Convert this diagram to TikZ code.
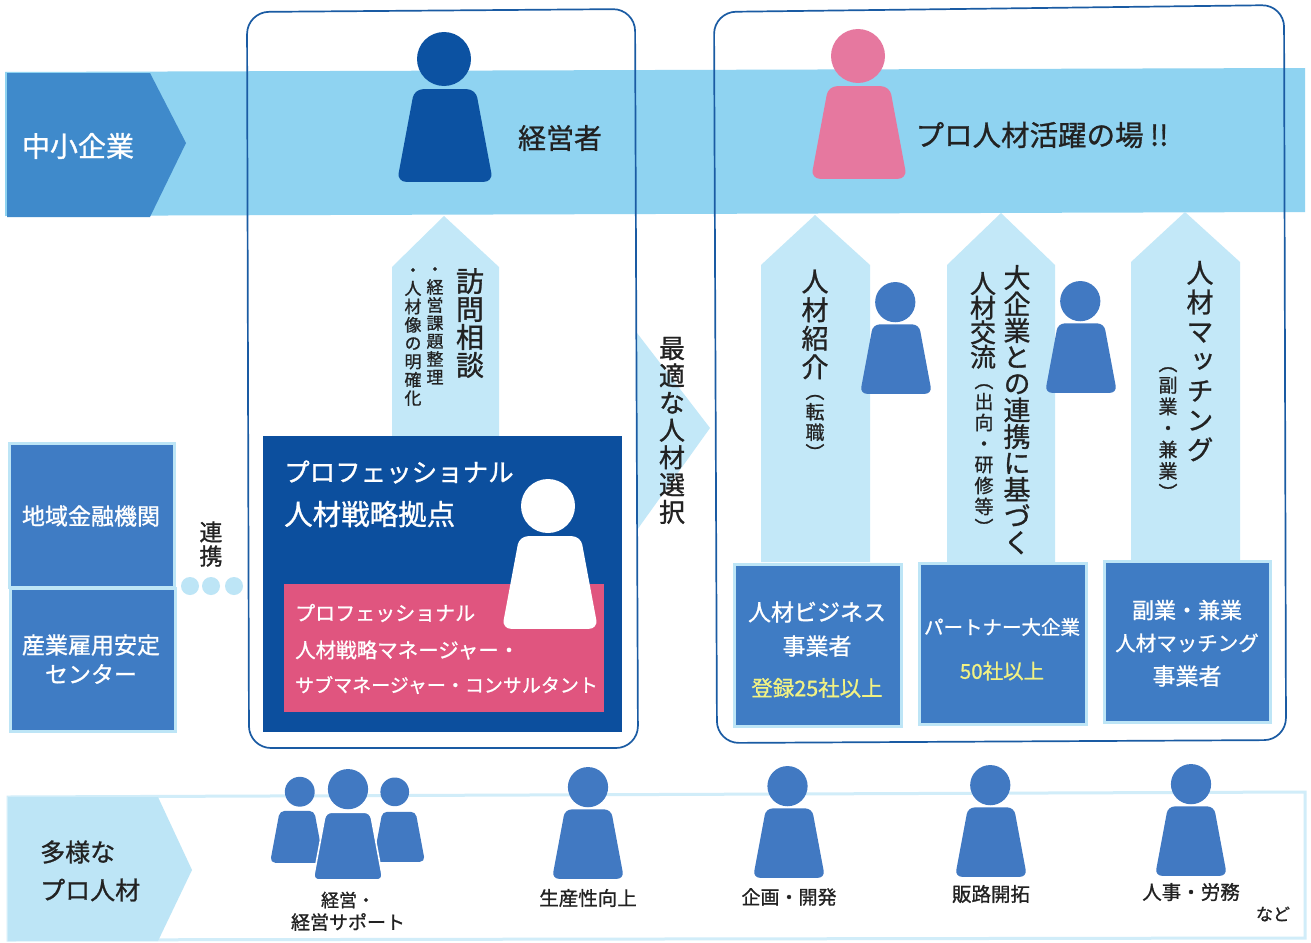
\documentclass[tikz,border=0pt]{standalone}
\usepackage{fontspec}
\setmainfont{Noto Sans CJK JP}
\newfontfamily\hjp[RawFeature={embolden=1.0}]{Noto Sans CJK JP}
\newfontfamily\vjp[RawFeature={+vert;embolden=1.0}]{Noto Sans CJK JP}
\definecolor{bandc}{HTML}{8FD3F1}
\definecolor{darkb}{HTML}{3F8ACB}
\definecolor{arrowc}{HTML}{C3E8F8}
\definecolor{navy}{HTML}{0C4F9E}
\definecolor{linec}{HTML}{1A5BA3}
\definecolor{manc}{HTML}{4179C2}
\definecolor{boxc}{HTML}{3F7CC4}
\definecolor{paleb}{HTML}{BDE5F6}
\definecolor{pinkb}{HTML}{E0557F}
\definecolor{pinkp}{HTML}{E6789F}
\definecolor{headb}{HTML}{0C52A2}
\definecolor{yel}{HTML}{F2F283}
\definecolor{txt}{HTML}{222222}
\makeatletter
\newdimen\vadv
\newcommand\vt[3]{\vbox{\offinterlineskip\fontsize{#2}{#2}\vjp\vadv=#1pt\relax
  \@tfor\vch:=#3\do{\hbox to 2em{\hss\vrule height \dimexpr.5\vadv+.38em\relax depth \dimexpr.5\vadv-.38em\relax width 0pt\smash{\vch}\hss}}}}
\makeatother
\newcommand\fs[1]{\fontsize{#1}{#1}\hjp}
\newcommand\person[7]{% cx, bottom y, width, colour, outline, head dx, head dy (scaled units)
  \pgfmathsetmacro\ps{#3/94}
  \begin{scope}[shift={(#1,#2)},x=\ps pt,y=-\ps pt]
    \filldraw[fill=#4,draw=#5,line width=1.6pt,rounded corners=8*\ps pt] (-47,0) -- (-30,-91) -- (30,-91) -- (47,0) -- cycle;
    \fill[#4] (#6,-122+#7) circle[radius=27];
  \end{scope}}
\tikzset{
  lab/.style={inner sep=0pt,text=txt},
  wlab/.style={inner sep=0pt,text=white},
  ylab/.style={inner sep=0pt,text=yel},
  uparrow/.style={fill=arrowc,draw=none},
  frame/.style={draw=linec,line width=1.7pt,rounded corners=22pt},
  tile/.style={fill=boxc,draw=paleb,line width=3pt}
}
\begin{document}
\begin{tikzpicture}[x=1pt,y=-1pt]
\useasboundingbox[fill=white] (0,0) rectangle (1311,942);
% bands
\fill[bandc] (5,72) -- (1305,68) -- (1305,212) -- (5,216) -- cycle;
\fill[darkb] (7,73) -- (150,73) -- (186,143) -- (150,217) -- (7,217) -- cycle;
\draw[paleb!70!white,line width=3pt] (8,797) -- (1305,792) -- (1305,938) -- (8,940) -- cycle;
\fill[paleb] (8,797) -- (158,797) -- (192,870) -- (158,941) -- (8,941) -- cycle;
% arrows
\fill[uparrow] (392,436) -- (392,267) -- (444,216) -- (499,267) -- (499,436) -- cycle;
\fill[uparrow] (761,562) -- (761,265) -- (815,215) -- (870,265) -- (870,562) -- cycle;
\fill[uparrow] (947,562) -- (947,265) -- (1001,213) -- (1055,265) -- (1055,562) -- cycle;
\fill[uparrow] (1131,560) -- (1131,262) -- (1185,212) -- (1240,262) -- (1240,560) -- cycle;
\fill[uparrow] (637,333) -- (710,428) -- (637,530) -- cycle;
% frames
\draw[frame] (247,12) -- (635,9) -- (638,748) -- (249,748) -- cycle;
\draw[frame] (714,12) -- (1284,5) -- (1286,740) -- (717,743) -- cycle;
% navy block
\fill[navy] (263,436) rectangle (622,732);
\fill[pinkb] (284,584) rectangle (604,712);
% side tiles
\draw[tile] (9,443) rectangle (174,587);
\draw[tile] (10,588) rectangle (175,731);
\fill[paleb] (190,586) circle[radius=9] (211,586) circle[radius=9] (234,586) circle[radius=9];
% lower tiles
\draw[tile] (734,564) rectangle (901,726);
\draw[tile] (919,563) rectangle (1086,724);
\draw[tile] (1104,561) rectangle (1270,722);
% persons
\person{445}{181}{94}{headb}{headb}{-1}{0}
\person{859}{178}{94}{pinkp}{pinkp}{-1}{0}
\person{550}{628}{94}{white}{white}{-2}{0}
\person{896}{393}{70}{manc}{manc}{-1}{0}
\person{1081}{392}{70}{manc}{manc}{-1}{0}
\person{297}{862}{52}{manc}{manc}{5}{-5}
\person{399}{861}{50}{manc}{manc}{-8}{-8}
\person{348}{880}{70}{manc}{white}{0}{0}
\person{588}{878}{70}{manc}{manc}{0}{0}
\person{789}{877}{70}{manc}{manc}{-2}{0}
\person{991}{876}{70}{manc}{manc}{-1}{0}
\person{1191}{875}{70}{manc}{manc}{0}{0}
% labels
\node[wlab] (chusho) at (78,146) {\fs{28}中小企業};
\node[lab] (keiei) at (560,138) {\fs{28}経営者};
\node[lab] (katsu) at (1042,135) {\fs{28.5}プロ人材活躍の場 !!};
\node[lab] (homon) at (470,323) {\vt{28}{28}{訪問相談}};
\node[lab] (h1) at (435,323) {\vt{18}{17}{・経営課題整理}};
\node[lab] (h2) at (413,334) {\vt{18.3}{17}{・人材像の明確化}};
\node[lab] (saiteki) at (672,430) {\vt{27.3}{26}{最適な人材選択}};
\node[lab] (shokai) at (815,324) {\vt{28.5}{27}{人材紹介}};
\node[lab] (tenshoku) at (815,422) {\vt{20.5}{19}{（転職）}};
\node[lab] (daikigyo) at (1017,410) {\vt{26.5}{27}{大企業との連携に基づく}};
\node[lab] (koryu) at (983,320) {\vt{24.5}{26}{人材交流}};
\node[lab] (shukko) at (984,454) {\vt{21}{19}{（出向・研修等）}};
\node[lab] (match) at (1200,361) {\vt{29.5}{27}{人材マッチング}};
\node[lab] (fuku) at (1168,428) {\vt{21.5}{19}{（副業・兼業）}};
\node[lab] (renkei) at (211,544) {\vt{24}{23}{連携}};
\node[wlab,anchor=west] (pro1) at (284,472) {\fs{25.5}プロフェッショナル};
\node[wlab,anchor=west] (pro2) at (284,514) {\fs{28.5}人材戦略拠点};
\node[wlab,anchor=west] (p1) at (295,613) {\fs{20}プロフェッショナル};
\node[wlab,anchor=west] (p2) at (295,650) {\fs{20.5}人材戦略マネージャー・};
\node[wlab,anchor=west] (p3) at (295,685) {\fs{19}サブマネージャー・コンサルタント};
\node[wlab] (biz1) at (817,612) {\fs{23}人材ビジネス};
\node[wlab] (biz2) at (817,646) {\fs{23}事業者};
\node[ylab] (biz3) at (817,688) {\fs{21.5}登録25社以上};
\node[wlab] (pt1) at (1002,627) {\fs{19.5}パートナー大企業};
\node[ylab] (pt2) at (1002,671) {\fs{20.5}50社以上};
\node[wlab] (fk1) at (1187,610) {\fs{22}副業・兼業};
\node[wlab] (fk2) at (1187,643) {\fs{20.5}人材マッチング};
\node[wlab] (fk3) at (1187,676) {\fs{23}事業者};
\node[wlab] (chi) at (91,516) {\fs{23}地域金融機関};
\node[wlab] (san1) at (91,645) {\fs{23}産業雇用安定};
\node[wlab] (san2) at (91,674) {\fs{23}センター};
\node[lab,anchor=west] (tayo) at (40,852) {\fs{25}多様な};
\node[lab,anchor=west] (pron) at (40,890) {\fs{25}プロ人材};
\node[lab] (k1) at (348,900) {\fs{18}経営・};
\node[lab] (k2) at (348,922) {\fs{19}経営サポート};
\node[lab] (sei) at (588,898) {\fs{19.5}生産性向上};
\node[lab] (kik) at (789,897) {\fs{19}企画・開発};
\node[lab] (han) at (991,894) {\fs{19.5}販路開拓};
\node[lab] (jin) at (1191,892) {\fs{19.5}人事・労務};
\node[lab] (nado) at (1273,914) {\fs{17}など};
\end{tikzpicture}
\end{document}
